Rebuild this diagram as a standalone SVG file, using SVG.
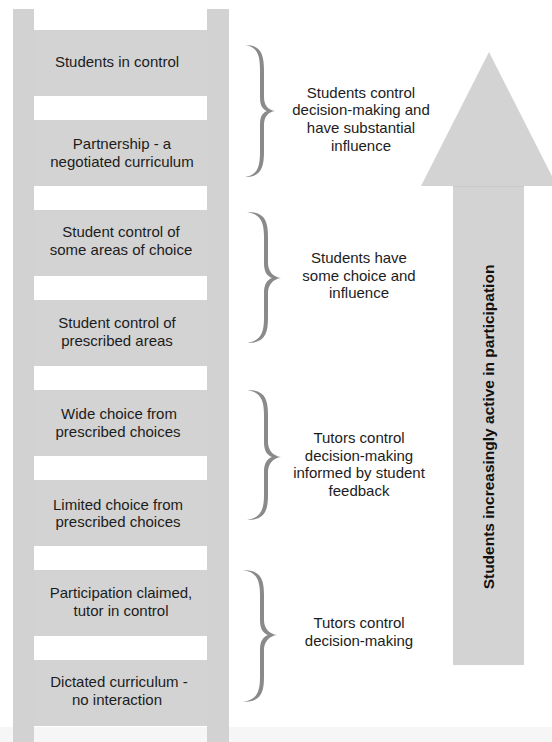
<svg xmlns="http://www.w3.org/2000/svg" width="552" height="742" viewBox="0 0 552 742">
<style>
  .rail{fill:#d2d2d2}
  .rung{fill:#d3d3d3}
  .lbl{font-family:"Liberation Sans",Arial,sans-serif;font-size:15px;fill:#1c1c1c;text-anchor:middle}
  .brace{fill:#8a8a8a}
  .arrow{fill:#d3d3d3}
  .vt{font-family:"Liberation Sans",Arial,sans-serif;font-size:15.5px;font-weight:bold;fill:#111;text-anchor:middle}
</style>
<rect x="0" y="0" width="552" height="742" fill="#ffffff"/>
<rect x="0" y="727" width="552" height="15" fill="#f6f6f6"/>
<g id="ladder">
  <rect class="rail" x="13" y="9" width="21" height="733"/>
  <rect class="rail" x="207" y="9" width="22" height="733"/>
</g>
<g id="rung1"><rect class="rung" x="34" y="30" width="173" height="66"/>
  <text class="lbl" x="117" y="67">Students in control</text></g>
<g id="rung2"><rect class="rung" x="34" y="120" width="173" height="66"/>
  <text class="lbl" x="122" y="149">Partnership - a</text>
  <text class="lbl" x="122" y="166.7">negotiated curriculum</text></g>
<g id="rung3"><rect class="rung" x="34" y="210" width="173" height="66"/>
  <text class="lbl" x="121" y="237">Student control of</text>
  <text class="lbl" x="121" y="254.7">some areas of choice</text></g>
<g id="rung4"><rect class="rung" x="34" y="300" width="173" height="66"/>
  <text class="lbl" x="117" y="328">Student control of</text>
  <text class="lbl" x="117" y="345.7">prescribed areas</text></g>
<g id="rung5"><rect class="rung" x="34" y="390" width="173" height="66"/>
  <text class="lbl" x="119" y="419">Wide choice from</text>
  <text class="lbl" x="118" y="436.7">prescribed choices</text></g>
<g id="rung6"><rect class="rung" x="34" y="480" width="173" height="66"/>
  <text class="lbl" x="118" y="509.5">Limited choice from</text>
  <text class="lbl" x="118" y="527.2">prescribed choices</text></g>
<g id="rung7"><rect class="rung" x="34" y="570" width="173" height="66"/>
  <text class="lbl" x="121" y="598">Participation claimed,</text>
  <text class="lbl" x="121" y="615.7">tutor in control</text></g>
<g id="rung8"><rect class="rung" x="34" y="660" width="173" height="66"/>
  <text class="lbl" x="119" y="687">Dictated curriculum -</text>
  <text class="lbl" x="117" y="704.7">no interaction</text></g>

<g id="brace1">
  <path class="brace" d="M245,45 C260,45 264,53 264,70 L264,97 C264,105 268,110 275,111 C268,112 264,117 264,125 L264,152 C264,169 260,177 245,177 C257,175 260,168 260,152 L260,125 C260,117 262,113 267,111 C262,109 260,105 260,97 L260,70 C260,54 257,47 245,45 Z"/>
  <text class="lbl" x="361" y="97.5">Students control</text>
  <text class="lbl" x="361" y="115.2">decision-making and</text>
  <text class="lbl" x="361" y="132.9">have substantial</text>
  <text class="lbl" x="361" y="150.6">influence</text>
</g>
<g id="brace2">
  <path class="brace" d="M247,212 C264,212 268,220 268,237 L268,263 C268,271 273,277 281,278 C273,279 268,285 268,293 L268,318 C268,335 264,343 247,343 C260,341 264,334 264,318 L264,293 C264,284 267,280 272,278 C267,276 264,272 264,263 L264,237 C264,221 260,214 247,212 Z"/>
  <text class="lbl" x="359" y="263">Students have</text>
  <text class="lbl" x="359" y="280.7">some choice and</text>
  <text class="lbl" x="359" y="298.4">influence</text>
</g>
<g id="brace3">
  <path class="brace" d="M247,390 C264,390 268,398 268,415 L268,442 C268,450 273,456 281,457 C273,458 268,464 268,472 L268,495 C268,512 264,520 247,520 C260,518 264,511 264,495 L264,472 C264,463 267,459 272,457 C267,455 264,451 264,442 L264,415 C264,399 260,392 247,390 Z"/>
  <text class="lbl" x="359" y="443">Tutors control</text>
  <text class="lbl" x="359" y="460.7">decision-making</text>
  <text class="lbl" x="359" y="478.4">informed by student</text>
  <text class="lbl" x="359" y="496.1">feedback</text>
</g>
<g id="brace4">
  <path class="brace" d="M243,570 C260,570 264,578 264,595 L264,620 C264,628 269,634 277,635 C269,636 264,642 264,650 L264,677 C264,694 260,702 243,702 C256,700 260,693 260,677 L260,650 C260,641 263,637 268,635 C263,633 260,629 260,620 L260,595 C260,579 256,572 243,570 Z"/>
  <text class="lbl" x="359" y="628">Tutors control</text>
  <text class="lbl" x="359" y="645.7">decision-making</text>
</g>

<g id="arrow">
  <polygon class="arrow" points="489,52 557,186 421,186"/>
  <rect class="arrow" x="453" y="186" width="71" height="479"/>
  <line x1="453" y1="186.5" x2="524" y2="186.5" stroke="#c9c9c9" stroke-width="1"/>
  <text class="vt" transform="translate(488,427) rotate(-90)" y="5.5">Students increasingly active in participation</text>
</g>
</svg>
